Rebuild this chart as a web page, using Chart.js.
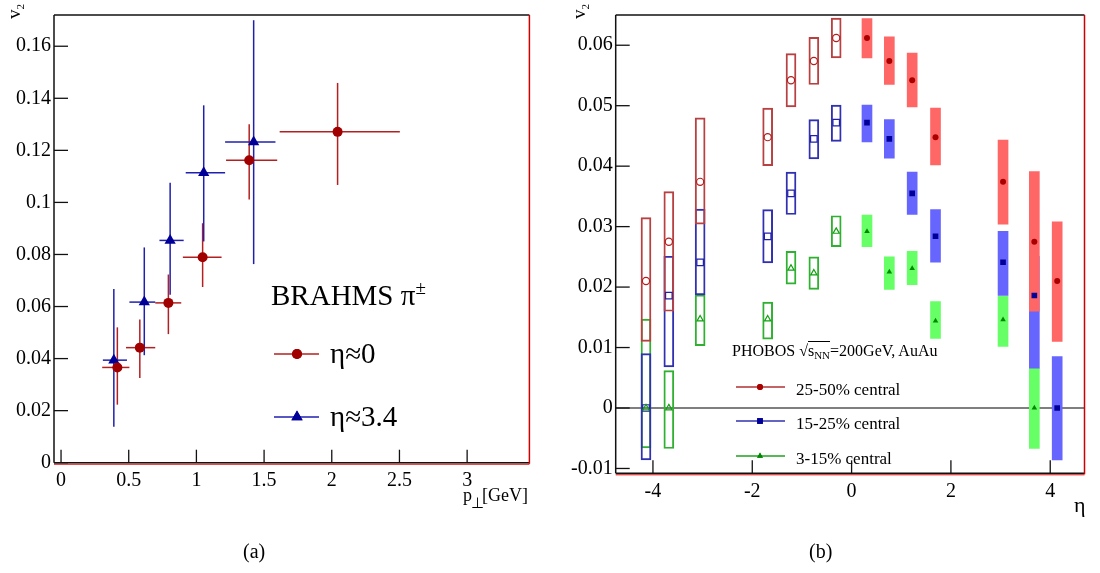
<!DOCTYPE html>
<html>
<head>
<meta charset="utf-8">
<script src="https://cdn.jsdelivr.net/npm/chart.js@4.4.0/dist/chart.umd.min.js"></script>
<style>
  body { margin: 0; background: #fff; width: 1100px; height: 573px; position: relative; overflow: hidden; font-family: "Liberation Serif", serif; }
  canvas { position: absolute; top: 0; }
  .t { position: absolute; white-space: nowrap; color: #000; line-height: 1; }
  .rot { transform: rotate(-90deg); transform-origin: 0 0; }
</style>
</head>
<body>
<canvas id="chartA" width="550" height="573" style="left:0"></canvas>
<canvas id="chartB" width="550" height="573" style="left:550px"></canvas>

<div class="t rot" style="left:4px;top:19px;font-size:19px">v<span style="font-size:11px;position:relative;top:4px">2</span></div>
<div class="t" style="left:271px;top:281px;font-size:29px">BRAHMS π<span style="font-size:19px;position:relative;top:-11px">±</span></div>
<div class="t" style="left:330px;top:339px;font-size:29px">η≈0</div>
<div class="t" style="left:330px;top:402px;font-size:29px">η≈3.4</div>
<div class="t" style="left:463px;top:486px;font-size:18px">p<span style="font-size:15px;position:relative;top:7px;margin-left:-1px">⊥</span><span style="margin-left:-2px">[GeV]</span></div>
<div class="t" style="left:243px;top:541px;font-size:20px">(a)</div>

<div class="t rot" style="left:569px;top:19px;font-size:19px">v<span style="font-size:11px;position:relative;top:4px">2</span></div>
<div class="t" style="left:732px;top:343px;font-size:16px">PHOBOS √<span style="border-top:1px solid #000">s<span style="font-size:11px;position:relative;top:3px">NN</span></span>=200GeV, AuAu</div>
<div class="t" style="left:796px;top:381px;font-size:17px">25-50% central</div>
<div class="t" style="left:796px;top:415px;font-size:17px">15-25% central</div>
<div class="t" style="left:796px;top:450px;font-size:17px">3-15% central</div>
<div class="t" style="left:1074px;top:494px;font-size:22px">η</div>
<div class="t" style="left:809px;top:541px;font-size:20px">(b)</div>

<script>
// ---- (a) BRAHMS pi+-, v2 vs pT ----
const ptEta0   = [0.416, 0.582, 0.793, 1.046, 1.390, 2.043]
const ptLoEta0 = [0.304, 0.480, 0.696, 0.900, 1.219, 1.615]
const ptHiEta0 = [0.505, 0.696, 0.888, 1.186, 1.597, 2.503]
const v2Eta0   = [0.0366, 0.0442, 0.0614, 0.0789, 0.1162, 0.1271]
const v2LoEta0 = [0.0223, 0.0325, 0.0494, 0.0675, 0.1011, 0.1067]
const v2HiEta0 = [0.0520, 0.0550, 0.0723, 0.0920, 0.1300, 0.1459]

const ptEta34   = [0.390, 0.615, 0.806, 1.054, 1.423]
const ptLoEta34 = [0.309, 0.505, 0.727, 0.921, 1.212]
const ptHiEta34 = [0.487, 0.696, 0.906, 1.212, 1.584]
const v2Eta34   = [0.0394, 0.0617, 0.0854, 0.1114, 0.1232]
const v2LoEta34 = [0.0138, 0.0413, 0.0645, 0.0850, 0.0763]
const v2HiEta34 = [0.0667, 0.0827, 0.1076, 0.1373, 0.1700]

// ---- (b) PHOBOS v2 vs eta, open = mirrored (negative eta), filled = measured ----
const etaNeg = [-4.14, -3.68, -3.05, -1.69, -1.22, -0.76, -0.31]
const etaPos = [0.31, 0.76, 1.22, 1.69, 3.05, 3.68, 4.14]

const redNeg   = [0.0210, 0.0275, 0.0374, 0.0448, 0.0542, 0.0574, 0.0612]
const redNegHi = [0.0315, 0.0358, 0.0480, 0.0496, 0.0586, 0.0613, 0.0645]
const redNegLo = [0.0110, 0.0160, 0.0304, 0.0401, 0.0498, 0.0535, 0.0579]
const redPos   = [0.0612, 0.0574, 0.0542, 0.0448, 0.0374, 0.0275, 0.0210]
const redPosHi = [0.0644, 0.0614, 0.0587, 0.0496, 0.0443, 0.0391, 0.0308]
const redPosLo = [0.0579, 0.0535, 0.0498, 0.0402, 0.0304, 0.0160, 0.0110]

const blueNeg   = [0.0000, 0.0186, 0.0241, 0.0284, 0.0355, 0.0445, 0.0472]
const blueNegHi = [0.0090, 0.0251, 0.0329, 0.0328, 0.0390, 0.0477, 0.0501]
const blueNegLo = [-0.0086, 0.0068, 0.0187, 0.0240, 0.0320, 0.0412, 0.0441]
const bluePos   = [0.0472, 0.0445, 0.0355, 0.0284, 0.0241, 0.0186, 0.0000]
const bluePosHi = [0.0501, 0.0477, 0.0390, 0.0328, 0.0292, 0.0251, 0.0085]
const bluePosLo = [0.0440, 0.0413, 0.0320, 0.0241, 0.0186, 0.0066, -0.0086]

const greenNeg   = [0.0000, 0.0000, 0.0147, 0.0147, 0.0231, 0.0223, 0.0292]
const greenNegHi = [0.0147, 0.0062, 0.0187, 0.0175, 0.0259, 0.0250, 0.0318]
const greenNegLo = [-0.0066, -0.0067, 0.0103, 0.0114, 0.0205, 0.0196, 0.0267]
const etaPosGreen = [0.31, 0.76, 1.22, 1.69, 3.05, 3.68]
const greenPos   = [0.0292, 0.0225, 0.0231, 0.0144, 0.0146, 0.0000]
const greenPosHi = [0.0319, 0.0250, 0.0259, 0.0176, 0.0185, 0.0066]
const greenPosLo = [0.0267, 0.0196, 0.0204, 0.0115, 0.0102, -0.0067]

Chart.defaults.font.family = '"Liberation Serif", serif'
Chart.defaults.color = '#000'

const fmt = v => String(+v.toFixed(4))
const pts = (xs, ys) => xs.map((x, i) => ({ x, y: ys[i] }))
const boxes = (xs, lo, hi) => xs.map((x, i) => ({ x, y: [lo[i], hi[i]] }))

function line(ctx, x1, y1, x2, y2) {
  ctx.beginPath()
  ctx.moveTo(x1, y1)
  ctx.lineTo(x2, y2)
  ctx.stroke()
}

// frame like a ROOT pad: black left/top, red right, black+red bottom, ticks pointing inward
const framePlugin = {
  id: 'frame',
  afterDraw(chart) {
    const { ctx, chartArea: a, scales: { x, y } } = chart
    ctx.save()
    ctx.lineWidth = 1.5
    ctx.strokeStyle = '#111'
    line(ctx, a.left, a.bottom, a.left, a.top)
    line(ctx, a.left, a.top, a.right, a.top)
    line(ctx, a.left, a.bottom, a.right, a.bottom)
    ctx.strokeStyle = '#d00000'
    line(ctx, a.right, a.top, a.right, a.bottom + 1)
    ctx.lineWidth = 1
    line(ctx, a.left, a.bottom + 1.5, a.right, a.bottom + 1.5)
    ctx.strokeStyle = '#111'
    ctx.lineWidth = 1.3
    x.ticks.forEach(t => {
      const px = x.getPixelForValue(t.value)
      line(ctx, px, a.bottom, px, a.bottom - 13)
    })
    y.ticks.forEach(t => {
      const py = y.getPixelForValue(t.value)
      line(ctx, a.left, py, a.left + 14, py)
    })
    ctx.restore()
  }
}

// x and y error bars of panel (a), drawn under the markers
const errorBarPlugin = {
  id: 'errorBars',
  beforeDatasetsDraw(chart) {
    const { ctx, scales: { x, y } } = chart
    const sets = [
      { xs: ptEta0, xl: ptLoEta0, xh: ptHiEta0, ys: v2Eta0, yl: v2LoEta0, yh: v2HiEta0, color: '#b42020' },
      { xs: ptEta34, xl: ptLoEta34, xh: ptHiEta34, ys: v2Eta34, yl: v2LoEta34, yh: v2HiEta34, color: '#2020b0' }
    ]
    ctx.save()
    ctx.lineWidth = 1.5
    sets.forEach(s => {
      ctx.strokeStyle = s.color
      s.xs.forEach((xv, i) => {
        const px = x.getPixelForValue(xv)
        const py = y.getPixelForValue(s.ys[i])
        line(ctx, x.getPixelForValue(s.xl[i]), py, x.getPixelForValue(s.xh[i]), py)
        line(ctx, px, y.getPixelForValue(s.yl[i]), px, y.getPixelForValue(s.yh[i]))
      })
    })
    ctx.restore()
  }
}

const legendA = {
  id: 'legendA',
  afterDatasetsDraw(chart) {
    const ctx = chart.ctx
    ctx.save()
    ctx.lineWidth = 1.5
    ctx.strokeStyle = '#b42020'
    line(ctx, 274, 354, 319, 354)
    ctx.strokeStyle = '#2020b0'
    line(ctx, 274, 417, 319, 417)
    ctx.fillStyle = '#a00000'
    Chart.helpers.drawPoint(ctx, { pointStyle: 'circle', radius: 5, borderWidth: 0, rotation: 0 }, 297, 354)
    ctx.fill()
    ctx.fillStyle = '#000099'
    Chart.helpers.drawPoint(ctx, { pointStyle: 'triangle', radius: 6.5, borderWidth: 0, rotation: 0 }, 297, 417)
    ctx.fill()
    ctx.restore()
  }
}

new Chart(document.getElementById('chartA'), {
  type: 'scatter',
  data: {
    datasets: [
      {
        label: 'η≈0',
        data: pts(ptEta0, v2Eta0),
        pointStyle: 'circle',
        pointRadius: 5,
        backgroundColor: '#a00000',
        borderColor: '#a00000',
        borderWidth: 0
      },
      {
        label: 'η≈3.4',
        data: pts(ptEta34, v2Eta34),
        pointStyle: 'triangle',
        pointRadius: 6.5,
        backgroundColor: '#000099',
        borderColor: '#000099',
        borderWidth: 0
      }
    ]
  },
  options: {
    responsive: false,
    animation: false,
    events: [],
    layout: { padding: { top: 4, right: 20.6, left: 0, bottom: 0 } },
    plugins: { legend: { display: false }, tooltip: { enabled: false } },
    scales: {
      x: {
        type: 'linear',
        min: -0.052,
        max: 3.46,
        afterFit(s) { s.height = 110.3 },
        grid: { display: false, drawTicks: false },
        border: { display: false },
        ticks: { stepSize: 0.5, includeBounds: false, padding: 6, maxRotation: 0, font: { size: 20 }, callback: fmt }
      },
      y: {
        type: 'linear',
        min: 0,
        max: 0.172,
        afterFit(s) { s.width = 54 },
        grid: { display: false, drawTicks: false },
        border: { display: false },
        ticks: { stepSize: 0.02, includeBounds: false, padding: 3, font: { size: 20 }, callback: fmt }
      }
    }
  },
  plugins: [errorBarPlugin, legendA, framePlugin]
})

// ---- (b) ----
const zeroLinePlugin = {
  id: 'zeroLine',
  beforeDatasetsDraw(chart) {
    const { ctx, chartArea: a, scales: { y } } = chart
    ctx.save()
    ctx.strokeStyle = '#555'
    ctx.lineWidth = 1.5
    const py = y.getPixelForValue(0)
    line(ctx, a.left, py, a.right, py)
    ctx.restore()
  }
}

const legendB = {
  id: 'legendB',
  afterDraw(chart) {
    const ctx = chart.ctx
    const rows = [
      { y: 387, line: '#b03030', fill: '#aa0000', style: 'circle', r: 3 },
      { y: 421, line: '#3030b0', fill: '#000099', style: 'rect', r: 4 },
      { y: 456, line: '#20a020', fill: '#008800', style: 'triangle', r: 3.4 }
    ]
    ctx.save()
    rows.forEach(row => {
      ctx.strokeStyle = row.line
      ctx.lineWidth = 1.3
      line(ctx, 186, row.y, 235, row.y)
      ctx.fillStyle = row.fill
      Chart.helpers.drawPoint(ctx, { pointStyle: row.style, radius: row.r, borderWidth: 0, rotation: 0 }, 210, row.y)
      ctx.fill()
    })
    ctx.restore()
  }
}

const openBox = (label, data, color, order) => ({
  type: 'bar', label, data, order,
  backgroundColor: 'rgba(0,0,0,0)', borderColor: color, borderWidth: 1.3, borderSkipped: false,
  barThickness: 10, grouped: false
})
const fillBox = (label, data, color, order) => ({
  type: 'bar', label, data, order,
  backgroundColor: color, borderWidth: 0,
  barThickness: 10, grouped: false
})
const marker = (label, data, style, r, color, open) => ({
  type: 'scatter', label, data, order: 0,
  pointStyle: style, pointRadius: r,
  backgroundColor: open ? 'rgba(0,0,0,0)' : color,
  borderColor: color, borderWidth: open ? 1.2 : 0
})

new Chart(document.getElementById('chartB'), {
  type: 'scatter',
  data: {
    datasets: [
      fillBox('3-15% sys', boxes(etaPosGreen, greenPosLo, greenPosHi), '#66ff66', 15),
      fillBox('15-25% sys', boxes(etaPos, bluePosLo, bluePosHi), '#6666ff', 14),
      fillBox('25-50% sys', boxes(etaPos, redPosLo, redPosHi), '#ff6666', 13),
      openBox('3-15% sys mirror', boxes(etaNeg, greenNegLo, greenNegHi), '#30b030', 12),
      openBox('15-25% sys mirror', boxes(etaNeg, blueNegLo, blueNegHi), '#3030b0', 11),
      openBox('25-50% sys mirror', boxes(etaNeg, redNegLo, redNegHi), '#b84040', 10),
      marker('3-15% central', pts(etaPosGreen, greenPos), 'triangle', 3.2, '#008800', false),
      marker('15-25% central', pts(etaPos, bluePos), 'rect', 4, '#000099', false),
      marker('25-50% central', pts(etaPos, redPos), 'circle', 3, '#aa0000', false),
      marker('3-15% mirror', pts(etaNeg, greenNeg), 'triangle', 3.6, '#10a010', true),
      marker('15-25% mirror', pts(etaNeg, blueNeg), 'rect', 4.6, '#2020a8', true),
      marker('25-50% mirror', pts(etaNeg, redNeg), 'circle', 3.6, '#b02020', true)
    ]
  },
  options: {
    responsive: false,
    animation: false,
    events: [],
    layout: { padding: { top: 4, right: 15.5, left: 0, bottom: 0 } },
    plugins: { legend: { display: false }, tooltip: { enabled: false } },
    scales: {
      x: {
        type: 'linear',
        min: -4.75,
        max: 4.69,
        offset: false,
        afterFit(s) { s.height = 99.7 },
        grid: { display: false, drawTicks: false },
        border: { display: false },
        ticks: { stepSize: 2, includeBounds: false, padding: 6, maxRotation: 0, font: { size: 20 }, callback: fmt }
      },
      y: {
        type: 'linear',
        min: -0.0108,
        max: 0.065,
        afterFit(s) { s.width = 65.7 },
        grid: { display: false, drawTicks: false },
        border: { display: false },
        ticks: { stepSize: 0.01, includeBounds: false, padding: 3, font: { size: 20 }, callback: fmt }
      }
    }
  },
  plugins: [zeroLinePlugin, legendB, framePlugin]
})
</script>
</body>
</html>
